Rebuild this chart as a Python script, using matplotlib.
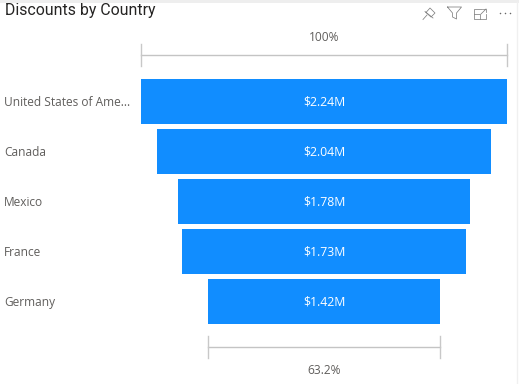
import matplotlib
matplotlib.use('Agg')
from matplotlib import pyplot as plt

countries = ['United States of Ame...', 'Canada', 'Mexico', 'France', 'Germany']
discounts = [2.24, 2.04, 1.78, 1.73, 1.42]
bar_labels = ['$2.24M', '$2.04M', '$1.78M', '$1.73M', '$1.42M']
top_label = '100%'
bottom_label = '63.2%'

W, H = 519, 384
plt.rcParams['font.family'] = ['Open Sans', 'DejaVu Sans']

fig = plt.figure(figsize=(W / 100, H / 100), dpi=100, facecolor='white')


def px_axes(x0, y0, x1, y1):
    # rect given in image pixels, y going down
    return fig.add_axes([x0 / W, 1 - y1 / H, (x1 - x0) / W, (y1 - y0) / H])


# overlay in pixel coords for the visual frame and header icons
bg = px_axes(0, 0, W, H)
bg.set_xlim(0, W)
bg.set_ylim(H, 0)
bg.axis('off')
bg.fill_between([0, W], 0, 2.5, color='#eeeeee', lw=0)
bg.plot([516.5, 516.5], [2, H], color='#f0f0f0', lw=1)

ic = '#808080'
# pin
bg.plot([423, 427], [19.5, 15], color=ic, lw=0.55)
bg.plot([426, 431, 435, 430, 426], [12.5, 17, 13, 8, 12.5], color=ic, lw=0.55)
bg.plot([425, 433], [11.5, 18], color=ic, lw=0.55)
# filter
bg.plot([447.5, 461.5, 456.5, 456.5, 452.5, 452.5, 447.5], [7, 7, 13, 19, 17, 13, 7], color=ic, lw=0.55)
# focus mode
bg.plot([482, 474, 474, 486, 486], [9, 9, 19, 19, 14], color=ic, lw=0.55)
bg.plot([474, 480, 480], [14, 14, 19], color=ic, lw=0.55)
bg.plot([481, 486], [14, 9], color=ic, lw=0.55)
bg.plot([483, 486, 486], [9, 9, 12], color=ic, lw=0.55)
# more
bg.plot([500, 505, 510], [12.5, 12.5, 12.5], ls='none', marker='o', ms=1.1, mew=0, color='#666666')

# funnel axes, width of the axes is the biggest bar
ax = px_axes(140.7, 76.5, 507.3, 326.5)
ax.set_xlim(-discounts[0] / 2, discounts[0] / 2)
ax.set_ylim(len(countries) - 0.5, -0.5)
ax.axis('off')

for i, v in enumerate(discounts):
    ax.barh(i, v, left=-v / 2, height=0.9, color='#118dff', lw=0)
    ax.text(0, i + 0.02, bar_labels[i], color='white', fontsize=8.8, ha='center', va='center')
    ax.annotate(countries[i], xy=(0, i), xycoords=('figure fraction', 'data'),
                xytext=(4, -1), textcoords='offset pixels',
                color='#605e5c', fontsize=8.6, ha='left', va='center')

# top and bottom brackets
first = discounts[0]
last = discounts[-1]
for v, y, lab, ly in [(first, -0.94, top_label, -1.28), (last, 4.9, bottom_label, 5.38)]:
    ax.plot([-v / 2, v / 2], [y, y], color='#c4c4c4', lw=1, clip_on=False)
    for side in (-v / 2, v / 2):
        ax.plot([side, side], [y - 0.22, y + 0.22], color='#c8c8c8', lw=1, clip_on=False)
    ax.text(0, ly, lab, color='#605e5c', fontsize=8.6, ha='center', va='center')

fig.text(5 / W, 1 - 10 / H, 'Discounts by Country', family=['Roboto', 'DejaVu Sans'],
         color='#252423', fontsize=11.4, ha='left', va='center')

fig.savefig('out.png', dpi=100)
